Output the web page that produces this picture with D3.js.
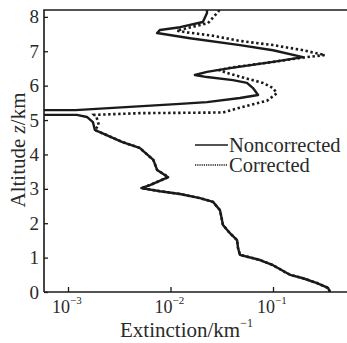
<!DOCTYPE html>
<html><head><meta charset="utf-8">
<script src="https://cdn.jsdelivr.net/npm/d3@7"></script>
<style>body{margin:0;background:#fff}svg{display:block}</style>
</head><body>
<svg id="c" width="347" height="343"></svg>
<script>
// Altitude (km) and extinction (km^-1)
const lowerAlt = [0.0,0.12,0.26,0.4,0.5,0.58,0.78,0.93,1.08,1.28,1.51,1.71,1.95,2.09,2.38,2.62,2.73,2.85,2.93,3.02,3.11,3.34,3.55,3.84,4.19,4.36,4.62,4.71];
const lowerExt = [0.36,0.344,0.269,0.196,0.147,0.131,0.1,0.0747,0.0476,0.0456,0.0446,0.038,0.0325,0.0318,0.0304,0.026,0.0194,0.0124,0.0079,0.0052,0.0063,0.0095,0.0074,0.0068,0.005,0.0034,0.00215,0.00183];
const noncorrUpperAlt = [4.94,5.09,5.15,5.15,5.29,5.29,5.47,5.52,5.64,5.73,5.93,6.08,6.16,6.25,6.31,6.4,6.51,6.69,6.83,7.03,7.18,7.38,7.53,7.62,7.7,7.85,8.11,8.2];
const noncorrUpperExt = [0.00175,0.00153,0.00122,0.0003,0.0003,0.00118,0.0124,0.0227,0.0476,0.0715,0.0638,0.0557,0.0407,0.0227,0.0173,0.0227,0.038,0.1,0.196,0.1,0.0476,0.0155,0.0074,0.0079,0.0124,0.0207,0.0227,0.0227];
const corrUpperAlt = [4.86,5.08,5.15,5.2,5.22,5.36,5.56,5.78,5.93,6.08,6.22,6.37,6.45,6.52,6.69,6.82,6.89,6.96,7.03,7.18,7.3,7.45,7.55,7.6,7.66,7.82,8.14,8.2];
const corrUpperExt = [0.002,0.0019,0.0018,0.005,0.0325,0.0476,0.0873,0.109,0.1,0.0798,0.0533,0.0356,0.03,0.038,0.1,0.2,0.321,0.25,0.196,0.1,0.0476,0.026,0.0145,0.0115,0.014,0.0232,0.029,0.03];
const yTicks = [0,1,2,3,4,5,6,7,8];
const xTicks = [1e-3,1e-2,1e-1];
const xTickExp = ["\u22123","\u22122","\u22121"];
const legendLabels = ["Noncorrected","Corrected"];

const noncorr = lowerAlt.map((z,i)=>({z,v:lowerExt[i]})).concat(noncorrUpperAlt.map((z,i)=>({z,v:noncorrUpperExt[i]})));
const corr = lowerAlt.map((z,i)=>({z,v:lowerExt[i]})).concat(corrUpperAlt.map((z,i)=>({z,v:corrUpperExt[i]})));

const L=44, R=347, T=10, B=292;
const x = d3.scaleLog().domain([Math.pow(10,-3-24/102.5), Math.pow(10,-1+74/102.5)]).range([L,R]);
const y = d3.scaleLinear().domain([0,8.2]).range([B,T]);
const svg = d3.select("#c");
const FF = '"Liberation Serif", "Times New Roman", monospace';
const ink = "#1a1a1a", txt = "#2a2a2a";

svg.append("defs").append("clipPath").attr("id","clip").append("rect").attr("x",L).attr("y",T).attr("width",R-L).attr("height",B-T);

// frame
svg.append("path").attr("d",`M${L},${B}V${T}H${R}`).attr("fill","none").attr("stroke",ink).attr("stroke-width",1.6);
svg.append("line").attr("x1",L).attr("x2",R).attr("y1",B).attr("y2",B).attr("stroke",ink).attr("stroke-width",1.6);

// y axis
const yAx = svg.append("g").attr("transform",`translate(${L},0)`)
  .call(d3.axisRight(y).tickValues(yTicks).tickSize(4).tickFormat(""));
yAx.select(".domain").remove();
yAx.selectAll("line").attr("stroke",ink).attr("stroke-width",1.3);
svg.selectAll(".ylab").data(yTicks).enter().append("text")
  .attr("x",L-5).attr("y",d=>y(d)+6.5).attr("text-anchor","end")
  .style("font-family",FF).attr("font-size",19).attr("fill",txt).text(d=>d);

// x axis
const xAx = svg.append("g").attr("transform",`translate(0,${B})`)
  .call(d3.axisTop(x).tickValues(xTicks).tickSize(5).tickFormat(""));
xAx.select(".domain").remove();
xAx.selectAll("line").attr("stroke",ink).attr("stroke-width",1.3);
xTicks.forEach((t,i)=>{
  const tx = svg.append("text").attr("x",x(t)-16).attr("y",313)
    .style("font-family",FF).attr("font-size",18).attr("fill",txt);
  tx.append("tspan").text("10");
  tx.append("tspan").attr("dy",-9).attr("font-size",11).text(xTickExp[i]);
});

// titles
const xt = svg.append("text").attr("x",120).attr("y",337).style("font-family",FF).attr("font-size",21).attr("fill",txt);
xt.append("tspan").text("Extinction/km");
xt.append("tspan").attr("dy",-10).attr("font-size",12).text("\u22121");

const yt = svg.append("text").attr("transform","translate(25,150) rotate(-90)").attr("text-anchor","middle")
  .style("font-family",FF).attr("font-size",21).attr("fill",txt);
yt.append("tspan").text("Altitude ");
yt.append("tspan").attr("font-style","italic").text("z");
yt.append("tspan").text("/km");

// curves
const line = d3.line().x(d=>x(d.v)).y(d=>y(d.z));
const g = svg.append("g").attr("clip-path","url(#clip)");
g.append("path").datum(corr).attr("d",line).attr("fill","none").attr("stroke",ink)
  .attr("stroke-width",2.6).attr("stroke-dasharray","2.4,2.6");
g.append("path").datum(noncorr).attr("d",line).attr("fill","none").attr("stroke",ink)
  .attr("stroke-width",2.4).attr("stroke-linejoin","round");

// legend
svg.append("line").attr("x1",195).attr("x2",228).attr("y1",145).attr("y2",145).attr("stroke",ink).attr("stroke-width",1.5);
svg.append("line").attr("x1",195).attr("x2",228).attr("y1",165).attr("y2",165).attr("stroke",ink).attr("stroke-width",1.5).attr("stroke-dasharray","1.2,1");
svg.selectAll(".leg").data(legendLabels).enter().append("text")
  .attr("x",229).attr("y",(d,i)=>152+i*20).style("font-family",FF).attr("font-size",20.5).attr("fill",txt).text(d=>d);
</script>
</body></html>
